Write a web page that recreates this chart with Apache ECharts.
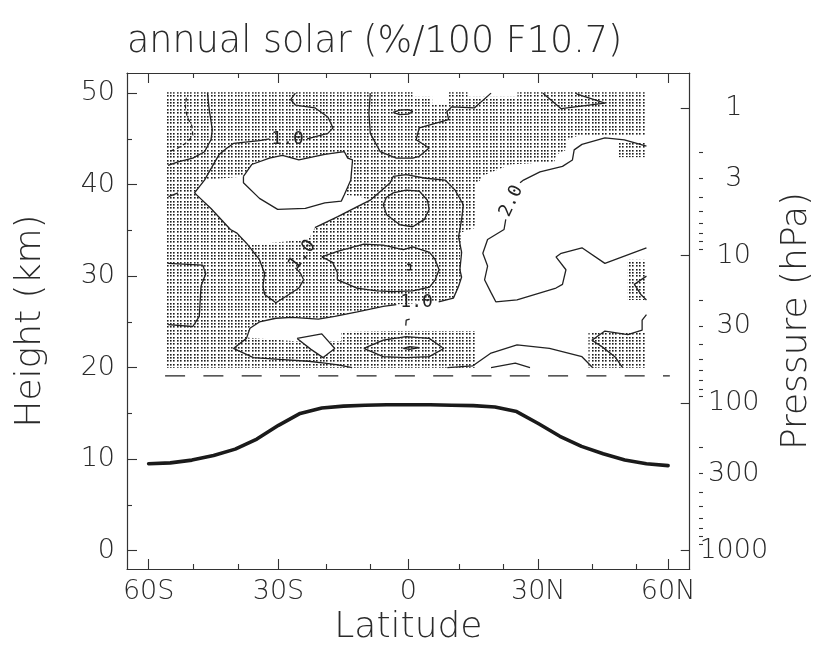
<!DOCTYPE html>
<html><head><meta charset="utf-8">
<script src="https://cdn.jsdelivr.net/npm/echarts@6/dist/echarts.min.js"></script>
<style>html,body{margin:0;padding:0;background:#fff}#c{width:823px;height:653px}</style>
</head><body><div id="c"></div>
<script>
// ---------- axes ----------
const latTicks = [-60, -30, 0, 30, 60];
const latLabels = ['60S', '30S', '0', '30N', '60N'];
const latMinor = [-50, -40, -20, -10, 10, 20, 40, 50];
const kmTicks = [0, 10, 20, 30, 40, 50];
const kmMinor = [5, 15, 25, 35, 45];
const pLabels = [1, 3, 10, 30, 100, 300, 1000];
const pMajor = [1, 10, 100, 1000];
const pMinor = [2,3,4,5,6,7,8,9,20,30,40,50,60,70,80,90,200,300,400,500,600,700,800,900];

// ---------- tropopause ----------
const tropLat = [-60,-55,-50,-45,-40,-35,-30,-25,-20,-15,-10,-5,0,5,10,15,20,25,30,35,40,45,50,55,60];
const tropKm  = [9.5,9.6,9.9,10.4,11.1,12.2,13.7,15.0,15.6,15.8,15.9,15.95,15.95,15.95,15.9,15.85,15.7,15.2,13.9,12.5,11.4,10.6,9.9,9.5,9.3];

// ---------- dashed reference level ----------
const refLevelLat = [-56.2, 60.4];
const refLevelKm = [19.1, 19.1];

// ---------- contour lines [lat, km] ----------
const contourDashed = [[-51.3,49.5],[-51.5,48.5],[-51.1,47.4],[-50.0,46.4],[-49.8,45.4],[-50.9,44.7],[-53.2,44.0],[-55.3,43.6]];
const contourB = [[-46.4,50.0],[-46.0,48.2],[-45.3,46.0],[-45.6,44.9],[-47.1,43.6],[-49.8,42.9],[-53.2,42.5],[-55.5,42.1]];
const contourC1 = [[-26.1,50.0],[-27.2,49.3],[-26.1,48.7],[-21.6,48.4],[-18.6,47.4],[-17.4,46.2],[-18.6,45.6],[-23.4,45.0]];
const contourC2 = [[-32.1,45.0],[-34.4,44.8],[-40.4,44.5],[-41.9,44.0],[-43.7,43.3],[-45.3,42.0],[-47.1,40.5],[-49.4,39.1],[-45.6,37.4],[-41.1,35.1],[-39.6,34.7],[-37.4,33.6],[-34.4,31.8],[-33.2,30.3],[-33.6,28.9],[-33.2,28.0],[-30.6,27.1],[-27.6,28.0],[-25.3,28.7],[-24.2,29.6],[-24.9,30.3],[-26.1,30.9]];
const contourC3 = [[-21.6,35.3],[-16.3,36.5],[-11.8,37.6],[-8.8,38.3],[-4.2,40.2],[-3.5,40.9],[-0.5,41.1],[4.0,40.7],[8.5,40.5],[10.8,39.4],[12.7,37.8],[12.3,36.2],[11.9,35.1],[11.6,34.3],[12.3,32.6],[11.9,30.7],[12.3,29.9],[11.6,28.9],[10.4,27.6],[7.0,27.2]];
const contourC4 = [[-2.8,26.9],[-5.8,26.7],[-11.8,26.1],[-17.0,25.6],[-20.8,25.3],[-26.8,25.5],[-30.6,25.4],[-34.4,25.0],[-36.6,24.3],[-37.4,23.2],[-40.4,22.1],[-35.8,21.1],[-29.8,20.9],[-23.1,20.7],[-19.3,20.5],[-16.3,20.3],[-13.0,20.0]];
const contourD = [[-38.1,40.9],[-36.2,42.2],[-32.1,42.9],[-29.1,43.2],[-25.3,42.7],[-19.3,43.3],[-14.8,43.6],[-14.0,42.9],[-12.9,42.7],[-13.3,40.5],[-14.8,38.9],[-15.5,38.2],[-19.3,38.0],[-23.8,37.4],[-30.2,37.3],[-34.4,38.5],[-38.1,40.2],[-38.1,40.9]];
const contourE = [[19.1,50.0],[15.3,48.4],[10.0,48.5],[8.9,48.0],[9.3,47.1],[2.5,46.2],[1.8,44.9],[4.8,44.0],[2.5,43.1],[1.0,42.9],[-2.8,42.9],[-6.5,43.6],[-8.8,45.6],[-9.1,47.8],[-8.8,50.0]];
const contourF = [[-3.5,47.9],[-2.0,48.15],[0,48.2],[1.0,48.0],[0,47.7],[-2.0,47.65],[-3.5,47.9]];
const contourG = [[31.1,50.0],[35.3,48.3],[45.4,48.9],[39.0,49.9],[38.6,50.0]];
const contourH = [[-5.8,37.8],[-5.1,38.6],[-3.5,39.1],[-0.5,39.4],[2.5,39.3],[4.4,38.3],[4.8,37.3],[3.7,36.2],[1.0,35.4],[-1.9,35.6],[-5.0,36.7],[-5.8,37.8]];
const contourI = [[-55.5,31.4],[-47.5,31.2],[-46.8,30.3],[-47.9,28.9],[-48.3,25.6],[-49.8,24.5],[-55.5,24.7]];
const contourJ = [[-20.0,32.1],[-16.4,32.7],[-10.3,33.5],[-5.8,33.4],[-1.2,32.9],[1.0,33.2],[4.9,32.6],[6.2,31.8],[7.1,30.7],[6.2,29.6],[4.9,28.8],[1.0,28.4],[-3.5,28.3],[-7.3,28.4],[-11.9,28.7],[-14.8,29.3],[-16.4,29.6],[-16.4,30.4],[-17.5,31.5],[-20.0,32.1]];
const contourK = [[-0.3,31.3],[0.5,31.3],[0.5,30.7],[-0.3,30.7]];
const contourK2 = [[-0.6,24.6],[-0.5,25.2],[0.3,25.3]];
const contour2a = [[55.0,44.2],[49.9,44.9],[45.4,45.1],[40.1,44.4],[38.3,43.8],[37.9,42.7],[35.6,42.0],[30.4,41.4],[26.6,40.5],[25.8,40.2]];
const contour2b = [[22.5,36.2],[22.1,35.1],[18.3,34.0],[17.2,32.5],[18.3,31.1],[17.6,29.6],[19.1,28.2],[20.2,27.2],[25.1,27.4],[34.1,28.7],[35.6,29.1],[36.4,30.7],[34.1,32.1],[35.3,32.5],[40.1,33.1],[45.4,31.4],[55.0,33.1]];
const contourM = [[55.0,25.8],[54.0,25.2],[54.0,24.1],[50.7,23.6],[45.4,24.0],[42.4,23.0],[44.7,22.3],[47.7,21.2],[49.5,20.0]];
const contourN = [[55.0,30.0],[52.2,29.1],[53.7,28.0],[55.0,27.4]];
const contourO = [[9.0,20.0],[14.9,20.2],[19.1,21.6],[25.1,22.5],[32.6,22.1],[40.1,21.2],[42.6,20.0]];
const contourP = [[19.1,20.0],[24.7,20.5],[28.1,20.0]];
const contourQ = [[-25.7,23.2],[-20.0,23.7],[-17.0,22.1],[-19.7,21.1],[-22.5,22.0],[-25.7,23.2]];
const contourR = [[-10.3,22.1],[-5.8,23.0],[-0.5,23.4],[4.8,23.2],[8.2,22.1],[4.8,21.2],[-0.5,21.1],[-5.8,21.2],[-10.3,22.1]];
const contourS = [[-1.2,22.1],[0.3,22.3],[2.5,22.2],[0.3,22.0],[-1.2,22.1]];
const contourT = [[-55.4,38.7],[-53.2,39.1]];

// ---------- contour labels ----------
const labelPos = [[-27.9,44.9],[-24.5,32.3],[1.9,27.1],[23.8,38.2]];
const labelText = ['1.0','1.0','1.0','2.0'];
const labelAngle = [0, 52, 0, 65];

// ---------- significance (stippled) areas and unstippled holes ----------
const stippleAreas = [
  [[-56.0,50.1],[54.8,50.1],[54.8,20.0],[-56.0,20.0]]
];
const holeUpperLeft = [[-47.1,40.5],[-38.1,40.9],[-38.1,40.2],[-34.4,38.5],[-30.2,37.3],[-23.8,37.4],[-19.3,38.0],[-15.5,38.2],[-14.8,38.9],[-11.4,38.7],[-8.8,38.3],[-11.8,37.6],[-16.3,36.5],[-21.6,35.3],[-23.1,34.0],[-32.8,33.6],[-37.4,33.6],[-39.6,34.7],[-41.1,35.1],[-45.6,37.4],[-49.4,39.1]];
const holeRight = [[54.9,45.4],[39.4,45.4],[36.7,44.9],[36.5,43.8],[34.2,43.3],[33.7,42.5],[23.6,42.2],[17.9,41.1],[15.5,40.0],[15.5,35.3],[12.3,34.8],[11.9,31.8],[12.3,30.1],[11.6,28.8],[10.5,27.6],[7.1,27.2],[-2.8,26.9],[-5.8,26.7],[-11.9,26.1],[-17.0,25.6],[-20.9,25.3],[-26.7,25.5],[-30.6,25.5],[-34.4,25.0],[-36.7,24.4],[-37.4,23.3],[-26.1,22.9],[-15.5,22.9],[-15.5,23.9],[-3.5,24.0],[15.5,24.0],[15.5,19.9],[41.6,19.9],[41.6,23.8],[54.9,23.8],[54.9,27.4],[50.7,27.4],[50.7,31.8],[54.9,31.8],[54.9,43.0],[48.4,43.0],[48.4,44.6],[54.9,44.6]];
const holeTop1 = [[1.0,50.2],[9.4,50.2],[9.4,48.8],[5.5,48.8],[5.5,49.6],[1.0,49.6]];
const holeTop2 = [[13.7,50.2],[25.2,50.2],[25.2,49.6],[13.7,49.6]];
const holeAreas = [holeUpperLeft, contourD, holeRight, contourQ, holeTop1, holeTop2];

// ---------- figure constants ----------
const KM_MIN = -2, KM_MAX = 52.2, SCALE_H = 7;
const hFromP = p => -SCALE_H * Math.log(p / 1000);
const pFromH = h => 1000 * Math.exp(-h / SCALE_H);

const INK = '#222';
const TXT = '#2a2a2a';
const FONT = '"DejaVu Sans", sans-serif';

function makeDots() {
  const c = document.createElement('canvas');
  c.width = 17; c.height = 17;
  const g = c.getContext('2d');
  g.fillStyle = '#1c1c1c';
  const pos = [0, 3, 7, 10, 14];
  for (const x of pos) for (const y of pos) g.fillRect(x, y, 1.6, 1.6);
  return c;
}
const dotPattern = { image: makeDots(), repeat: 'repeat' };

function polySeries(polys, fill, z) {
  return {
    type: 'custom', xAxisIndex: 0, yAxisIndex: 0, z: z, silent: true,
    data: polys.map((p, i) => [p[0][0], p[0][1], i]),
    renderItem: (params, api) => {
      const p = polys[params.dataIndex];
      return { type: 'polygon', shape: { points: p.map(q => api.coord(q)) }, style: { fill: fill, stroke: null } };
    }
  };
}
function lineSeries(data, extra) {
  return Object.assign({
    type: 'line', xAxisIndex: 0, yAxisIndex: 0, data: data, symbol: 'none', showSymbol: false,
    silent: true, z: 5, lineStyle: { color: INK, width: 1.3 }
  }, extra || {});
}

const contours = [contourB, contourC1, contourC2, contourC3, contourC4, contourD, contourE, contourF, contourG,
  contourH, contourI, contourJ, contourK, contourK2, contour2a, contour2b, contourM, contourN, contourO, contourP,
  contourQ, contourR, contourS, contourT];

const frameLine = { show: true, onZero: false, lineStyle: { color: '#333', width: 1.2 } };
const noLine = { show: false, onZero: false };
const labelFont = { color: TXT, fontFamily: FONT, fontSize: 27, fontWeight: 200 };
const nameFont = { color: TXT, fontFamily: FONT, fontSize: 36, fontWeight: 200 };

function xAx(grid, pos, ticks, len, withLabels) {
  const a = {
    gridIndex: grid, type: 'value', position: pos, min: -65, max: 65,
    axisLine: grid === 0 ? frameLine : noLine,
    axisTick: { show: true, inside: true, length: len, customValues: ticks, lineStyle: { color: '#333', width: 1.1 } },
    axisLabel: { show: false }, splitLine: { show: false }
  };
  if (withLabels) {
    a.axisLabel = Object.assign({ show: true, customValues: latTicks, margin: 9,
      formatter: v => latLabels[latTicks.indexOf(v)] }, labelFont);
    a.name = 'Latitude'; a.nameLocation = 'middle'; a.nameGap = 29; a.nameTextStyle = nameFont;
  }
  return a;
}
function yAx(grid, pos, ticks, len) {
  return {
    gridIndex: grid, type: 'value', position: pos, min: KM_MIN, max: KM_MAX,
    axisLine: grid === 0 ? frameLine : noLine,
    axisTick: { show: true, inside: true, length: len, customValues: ticks, lineStyle: { color: '#333', width: 1.1 } },
    axisLabel: { show: false }, splitLine: { show: false }
  };
}

const yLeft = yAx(0, 'left', kmTicks, 10);
yLeft.axisLabel = Object.assign({ show: true, customValues: kmTicks, margin: 12, formatter: v => String(v) }, labelFont);
yLeft.name = 'Height (km)'; yLeft.nameLocation = 'middle'; yLeft.nameGap = 78; yLeft.nameTextStyle = nameFont;

const yRight = yAx(0, 'right', pMajor.map(hFromP), 9);
yRight.axisLabel = Object.assign({ show: true, customValues: pLabels.map(hFromP), margin: 44, align: 'center',
  formatter: v => String(Math.round(pFromH(v))) }, labelFont);
yRight.name = 'Pressure (hPa)'; yRight.nameLocation = 'middle'; yRight.nameGap = 88; yRight.nameTextStyle = nameFont;

const gridRect = { left: 127, right: 120, top: 73, bottom: 84, containLabel: false };

const series = [];
series.push(polySeries(stippleAreas, dotPattern, 1));
series.push(polySeries(holeAreas, '#ffffff', 2));
contours.forEach(c => series.push(lineSeries(c)));
series.push(lineSeries(contourDashed, { lineStyle: { color: INK, width: 1.2, type: [4, 3] } }));
series.push(lineSeries(refLevelLat.map((v, i) => [v, refLevelKm[i]]), { lineStyle: { color: INK, width: 1.3, type: [20, 18.3] } }));
series.push(lineSeries(tropLat.map((v, i) => [v, tropKm[i]]), { lineStyle: { color: '#1a1a1a', width: 3.6, cap: 'round', join: 'round' } }));
series.push({
  type: 'custom', xAxisIndex: 0, yAxisIndex: 0, z: 10, silent: true,
  data: labelPos.map((p, i) => [p[0], p[1], i]),
  renderItem: (params, api) => {
    const i = params.dataIndex;
    const pt = api.coord(labelPos[i]);
    return { type: 'text', x: pt[0], y: pt[1], rotation: labelAngle[i] * Math.PI / 180,
      style: { text: labelText[i], fill: INK, font: '18px "DejaVu Sans Mono", monospace', align: 'center', verticalAlign: 'middle' } };
  }
});

const chart = echarts.init(document.getElementById('c'), null, { renderer: 'canvas' });
chart.setOption({
  animation: false,
  backgroundColor: '#ffffff',
  title: { text: 'annual solar (%/100 F10.7)', left: 122, top: 19,
    textStyle: { color: TXT, fontFamily: FONT, fontSize: 36.5, fontWeight: 200 } },
  grid: [gridRect, Object.assign({}, gridRect)],
  xAxis: [
    xAx(0, 'bottom', latTicks, 10, true),
    xAx(0, 'top', latTicks, 10, false),
    xAx(1, 'bottom', latMinor, 5, false),
    xAx(1, 'top', latMinor, 5, false)
  ],
  yAxis: [
    yLeft,
    yRight,
    yAx(1, 'left', kmMinor, 5),
    yAx(1, 'right', pMinor.map(hFromP), 4)
  ],
  series: series
});
</script>
</body></html>
